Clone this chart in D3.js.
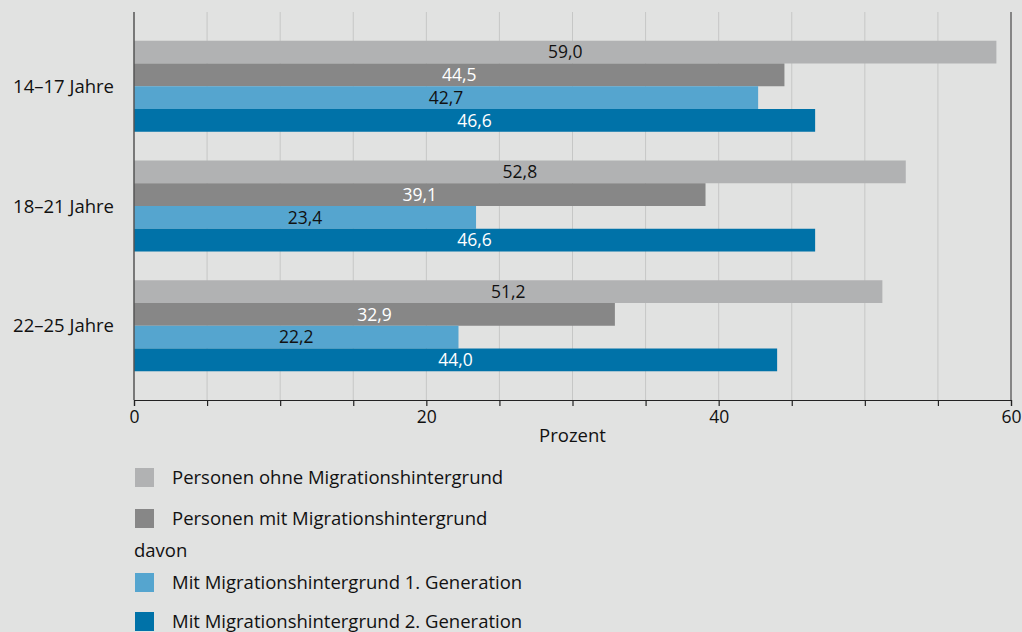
<!DOCTYPE html>
<html>
<head>
<meta charset="utf-8">
<script src="https://cdn.jsdelivr.net/npm/d3@7"></script>
<style>
  body { margin: 0; background: #e1e2e1; }
  svg { display: block; font-family: "Open Sans", "Noto Sans", sans-serif; }
</style>
</head>
<body>
<svg id="chart" width="1022" height="632"></svg>
<script>
// age groups and series
const groups = ["14\u201317 Jahre", "18\u201321 Jahre", "22\u201325 Jahre"];
const seriesNames = [
    "Personen ohne Migrationshintergrund",
    "Personen mit Migrationshintergrund",
    "Mit Migrationshintergrund 1. Generation",
    "Mit Migrationshintergrund 2. Generation"
];
const ohneMH = [59.0, 52.8, 51.2];
const mitMH = [44.5, 39.1, 32.9];
const gen1 = [42.7, 23.4, 22.2];
const gen2 = [46.6, 46.6, 44.0];
const xTicks = [0, 20, 40, 60];

const colors = ["#b1b2b3", "#878787", "#55a5cf", "#0072a8"];
const labelColors = ["#111", "#fff", "#111", "#fff"];

let svg = d3.select("#chart");
let margin = {top: 12, right: 11, bottom: 232, left: 134};
let width = 1022 - margin.left - margin.right;
let height = 632 - margin.top - margin.bottom;

let g = svg.append("g")
    .attr("transform", "translate(" + margin.left + "," + margin.top + ")");

let x = d3.scaleLinear().domain([0, 60]).range([0, width]);
let y0 = d3.scaleBand().domain(groups).range([0, height]).padding(0.24);
let y1 = d3.scaleBand().domain(d3.range(4)).range([0, y0.bandwidth()]);

// gridlines every 5
g.selectAll(".grid")
    .data(d3.range(5, 60, 5))
    .enter().append("line")
    .attr("x1", d => x(d)).attr("x2", d => x(d))
    .attr("y1", 0).attr("y2", height)
    .attr("stroke", "#c6c7c6").attr("stroke-width", 1);

// bars
let rows = groups.map((gr, i) => ({
    group: gr,
    values: [ohneMH[i], mitMH[i], gen1[i], gen2[i]]
}));

let grp = g.selectAll(".grp")
    .data(rows)
    .enter().append("g")
    .attr("transform", d => "translate(0," + y0(d.group) + ")");

grp.selectAll("rect")
    .data(d => d.values)
    .enter().append("rect")
    .attr("x", 0)
    .attr("y", (d, i) => y1(i))
    .attr("width", d => x(d))
    .attr("height", y1.bandwidth())
    .attr("fill", (d, i) => colors[i]);

grp.selectAll("text")
    .data(d => d.values)
    .enter().append("text")
    .attr("x", d => x(d) / 2)
    .attr("y", (d, i) => y1(i) + y1.bandwidth() / 2)
    .attr("dy", "0.36em")
    .attr("text-anchor", "middle")
    .attr("font-size", 17.5)
    .attr("fill", (d, i) => labelColors[i])
    .text(d => d.toFixed(1).replace(".", ","));

// group labels
g.selectAll(".glabel")
    .data(groups)
    .enter().append("text")
    .attr("x", -20)
    .attr("y", d => y0(d) + y0.bandwidth() / 2)
    .attr("dy", "0.36em")
    .attr("text-anchor", "end")
    .attr("font-size", 18.5)
    .attr("fill", "#111")
    .text(d => d);

// left and right frame lines
g.append("line").attr("x1", 0).attr("x2", 0).attr("y1", 0).attr("y2", height)
    .attr("stroke", "#555").attr("stroke-width", 1.5);
g.append("line").attr("x1", width).attr("x2", width).attr("y1", 0).attr("y2", height)
    .attr("stroke", "#666").attr("stroke-width", 1.5);

// x axis
let xAxis = g.append("g")
    .attr("transform", "translate(0," + height + ")")
    .call(d3.axisBottom(x).tickValues(d3.range(0, 61, 5)).tickSize(6)
        .tickFormat(d => xTicks.includes(d) ? d : ""));
xAxis.select(".domain").attr("stroke", "#222").attr("stroke-width", 1.2);
xAxis.selectAll(".tick line").attr("stroke", "#222").attr("stroke-width", 1.2);
xAxis.selectAll(".tick text")
    .attr("font-size", 17.5).attr("fill", "#111")
    .attr("font-family", "'Open Sans', sans-serif")
    .attr("y", 11);

g.append("text")
    .attr("x", width / 2)
    .attr("y", height + 42)
    .attr("text-anchor", "middle")
    .attr("font-size", 18.5)
    .attr("fill", "#111")
    .text("Prozent");

// legend
let legendRows = [
    {label: seriesNames[0], color: colors[0], y: 477},
    {label: seriesNames[1], color: colors[1], y: 518},
    {label: "davon", color: null, y: 550},
    {label: seriesNames[2], color: colors[2], y: 582},
    {label: seriesNames[3], color: colors[3], y: 621}
];

let legend = svg.append("g");
let item = legend.selectAll("g")
    .data(legendRows)
    .enter().append("g")
    .attr("transform", d => "translate(135," + d.y + ")");

item.filter(d => d.color)
    .append("rect")
    .attr("x", 0).attr("y", -9)
    .attr("width", 19).attr("height", 19)
    .attr("fill", d => d.color);

item.append("text")
    .attr("x", d => d.color ? 37 : -1)
    .attr("y", 0)
    .attr("dy", "0.36em")
    .attr("font-size", 18.5)
    .attr("fill", "#111")
    .text(d => d.label);
</script>
</body>
</html>
